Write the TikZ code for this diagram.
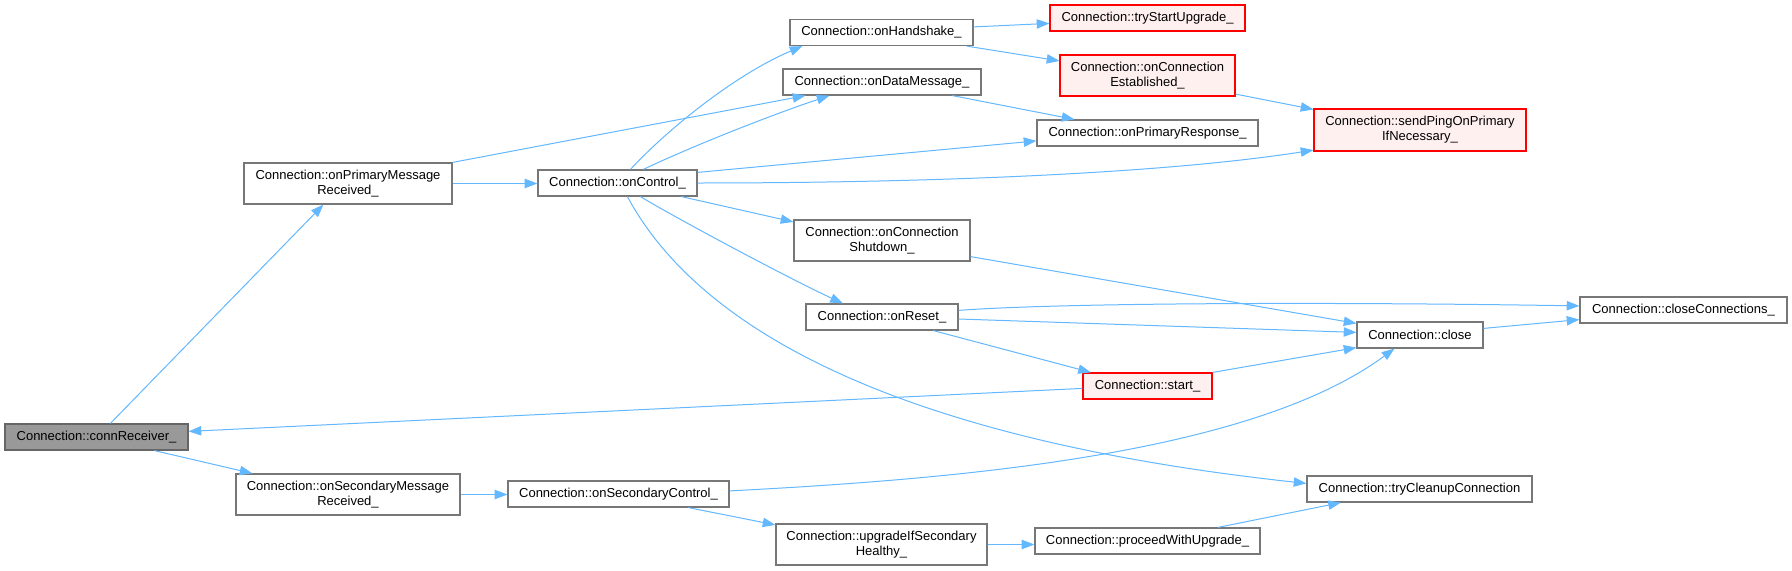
\documentclass[tikz,border=0pt]{standalone}
\usepackage{fontspec}
\setmainfont{Liberation Sans}
\usetikzlibrary{calc,arrows.meta}
\definecolor{edgeblue}{HTML}{63B8FF}
\definecolor{nodegray}{HTML}{777777}
\definecolor{rootfill}{HTML}{999999}
\definecolor{redfill}{HTML}{FFF0F0}
\newcommand\gn[7]{%
  \pgfmathsetmacro\gcx{(#3+#5)/2}%
  \pgfmathsetmacro\gcy{(#4+#6)/2}%
  \pgfmathsetmacro\gw{(#5-#3)*0.75}%
  \pgfmathsetmacro\gh{(#6-#4)*0.75}%
  \node[#2, minimum width=\gw pt, minimum height=\gh pt] (#1) at (\gcx,\gcy) {#7};}
\begin{document}
\begin{tikzpicture}[x=0.75pt,y=-0.75pt,
  fnode/.style={draw=nodegray, line width=0.9pt, fill=white, inner sep=0pt, align=center,
    font=\fontsize{9.75}{11.25}\selectfont},
  rootnode/.style={fnode, fill=rootfill, draw=black!60},
  rednode/.style={fnode, draw=red, fill=redfill},
  edge/.style={draw=edgeblue, line width=0.75pt, -{Triangle[length=9.5pt,width=7pt]}}]
\useasboundingbox (0,0) rectangle (1792,571);
\fill[white] (0,0) rectangle (1792,571);
% nodes
\gn{cr}{rootnode}{5}{424}{188}{450}{Connection::connReceiver\_}
\gn{pmr}{fnode}{244}{163}{452}{204}{Connection::onPrimaryMessage\\Received\_}
\gn{smr}{fnode}{236}{474}{460}{515}{Connection::onSecondaryMessage\\Received\_}
\gn{ctl}{fnode}{538}{170}{697}{196}{Connection::onControl\_}
\gn{sctl}{fnode}{508}{481}{729}{507}{Connection::onSecondaryControl\_}
\gn{hs}{fnode}{790}{19.5}{973}{45.5}{Connection::onHandshake\_}
\gn{dm}{fnode}{783}{69}{981}{95}{Connection::onDataMessage\_}
\gn{shut}{fnode}{794}{220}{970}{261}{Connection::onConnection\\Shutdown\_}
\gn{reset}{fnode}{806}{304}{958}{330}{Connection::onReset\_}
\gn{upg}{fnode}{776}{524}{987}{565}{Connection::upgradeIfSecondary\\Healthy\_}
\gn{tsu}{rednode}{1050}{5}{1245}{31}{Connection::tryStartUpgrade\_}
\gn{est}{rednode}{1060}{55}{1235}{96}{Connection::onConnection\\Established\_}
\gn{pr}{fnode}{1037}{120}{1258}{146}{Connection::onPrimaryResponse\_}
\gn{ping}{rednode}{1314}{109}{1526}{151}{Connection::sendPingOnPrimary\\IfNecessary\_}
\gn{start}{rednode}{1083}{373}{1212}{399}{Connection::start\_}
\gn{pwu}{fnode}{1035}{528}{1260}{554}{Connection::proceedWithUpgrade\_}
\gn{close}{fnode}{1357}{322}{1483}{348}{Connection::close}
\gn{tcc}{fnode}{1307}{476}{1532}{502}{Connection::tryCleanupConnection}
\gn{cc}{fnode}{1580}{297}{1787}{323}{Connection::closeConnections\_}
% edges
\draw[edge] ($(cr.north west)+(106,0)$) -- ($(pmr.south west)+(80,0)$);
\draw[edge] ($(cr.south west)+(150,0)$) -- ($(smr.north west)+(17,0)$);
\draw[edge] ($(start.north west)+(0,16)$) -- ($(cr.north east)+(0,8)$);
\draw[edge] (pmr.east) -- (pmr.east -| ctl.west);
\draw[edge] (pmr.north east) -- ($(dm.south west)+(23,0)$);
\draw[edge] ($(ctl.north west)+(93,0)$) .. controls +(41,-44) and +(-64,27) .. ($(hs.south west)+(13,0)$);
\draw[edge] ($(ctl.north west)+(106,0)$) .. controls +(46,-22) and +(-60,20) .. ($(dm.south west)+(47,0)$);
\draw[edge] ($(ctl.north east)+(0,3)$) -- ($(pr.north west)+(0,21.5)$);
\draw[edge] (ctl.east) .. controls +(203,0) and +(-164,25.5) .. ($(ping.south west)+(0,-1.5)$);
\draw[edge] ($(ctl.south west)+(144,0)$) -- ($(shut.north west)+(0,2.5)$);
\draw[edge] ($(ctl.south west)+(103,0)$) .. controls +(40,24) and +(-50,-23) .. ($(reset.north west)+(37.5,0)$);
\draw[edge] ($(ctl.south west)+(90,0)$) .. controls +(72,134) and +(-407,-44) .. ($(tcc.north west)+(0,8)$);
\draw[edge] ($(hs.north east)+(0,8)$) -- ($(tsu.north west)+(0,19)$);
\draw[edge] ($(hs.south east)+(-7,0)$) -- ($(est.north west)+(0,6.5)$);
\draw[edge] ($(est.south east)+(0,-2.5)$) -- ($(ping.north west)+(0,1)$);
\draw[edge] ($(dm.south west)+(170,0)$) -- ($(pr.north west)+(38,0)$);
\draw[edge] ($(shut.south east)+(0,-5)$) -- ($(close.north west)+(0,2)$);
\draw[edge] ($(reset.north east)+(0,7)$) .. controls +(92,-7) and +(-280,-4.5) .. ($(cc.north west)+(0,9.5)$);
\draw[edge] ($(reset.east)+(0,2)$) -- ($(close.north west)+(0,11)$);
\draw[edge] ($(reset.south west)+(128,0)$) -- ($(start.north west)+(8.5,0)$);
\draw[edge] (start.north east) -- ($(close.south west)+(0,-1)$);
\draw[edge] ($(close.north east)+(0,7)$) -- ($(cc.south west)+(0,-4)$);
\draw[edge] (smr.east) -- (smr.east -| sctl.west);
\draw[edge] ($(sctl.north east)+(0,10.5)$) .. controls +(221,-11.5) and +(-145,107) .. ($(close.south west)+(38,0)$);
\draw[edge] ($(sctl.south west)+(181,0)$) -- ($(upg.north west)+(0,1.5)$);
\draw[edge] (upg.east) -- (upg.east -| pwu.west);
\draw[edge] ($(pwu.north west)+(183.5,0)$) -- ($(tcc.south west)+(34.5,0)$);
\end{tikzpicture}
\end{document}
